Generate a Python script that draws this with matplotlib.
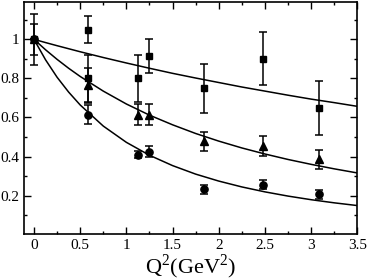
import numpy as np
import matplotlib
matplotlib.use('Agg')
import matplotlib.pyplot as plt
from matplotlib.ticker import MultipleLocator, FormatStrFormatter

plt.rcParams['font.family'] = ['Liberation Serif', 'DejaVu Serif']
plt.rcParams['mathtext.fontset'] = 'custom'
plt.rcParams['mathtext.rm'] = 'Liberation Serif'

# data points (Q^2, value, error)
q_sq = [0.0, 0.59, 0.59, 1.125, 1.24, 1.835, 2.48, 3.09]
v_sq = [1.0, 1.05, 0.80, 0.80, 0.915, 0.75, 0.90, 0.648]
e_sq = [0.13, 0.07, 0.12, 0.12, 0.085, 0.125, 0.136, 0.14]

q_tri = [0.0, 0.59, 1.125, 1.24, 1.835, 2.48, 3.09]
v_tri = [1.0, 0.765, 0.615, 0.615, 0.478, 0.455, 0.385]
e_tri = [0.08, 0.09, 0.055, 0.056, 0.05, 0.052, 0.048]

q_circ = [0.0, 0.59, 1.125, 1.24, 1.835, 2.48, 3.09]
v_circ = [1.0, 0.615, 0.41, 0.425, 0.232, 0.256, 0.207]
e_circ = [0.0, 0.05, 0.02, 0.028, 0.024, 0.024, 0.024]

# fitted curves
q_fit = [0.0, 0.125, 0.25, 0.375, 0.5, 0.75, 1.0, 1.25, 1.5, 1.75,
         2.0, 2.25, 2.5, 2.75, 3.0, 3.25, 3.5]
fit_top = [1.0, 0.9835, 0.9675, 0.952, 0.9365, 0.907, 0.879, 0.852, 0.826,
           0.802, 0.779, 0.756, 0.735, 0.714, 0.694, 0.676, 0.657]
fit_mid = [1.0, 0.9467, 0.8975, 0.852, 0.81, 0.735, 0.669, 0.612, 0.5625,
           0.518, 0.479, 0.444, 0.413, 0.385, 0.36, 0.337, 0.316]
fit_low = [1.0, 0.8954, 0.806, 0.730, 0.664, 0.556, 0.4727, 0.4066, 0.3536,
           0.310, 0.2744, 0.2444, 0.2191, 0.1975, 0.179, 0.163, 0.149]

fig = plt.figure(figsize=(3.68, 2.8), dpi=100)
ax = fig.add_axes([0.066, 0.164, 0.905, 0.828])

for y in (fit_top, fit_mid, fit_low):
    ax.plot(q_fit, y, color='black', lw=1.1)

ebkw = dict(color='black', ecolor='black', elinewidth=1.1, capsize=2.6,
            capthick=1.1, linestyle='none')
ax.errorbar(q_sq, v_sq, yerr=e_sq, marker='s', markersize=4.8, **ebkw)
ax.errorbar(q_tri, v_tri, yerr=e_tri, marker='^', markersize=5.6, **ebkw)
ax.errorbar(q_circ, v_circ, yerr=e_circ, marker='o', markersize=5.2, **ebkw)

ax.set_xlim(-0.105, 3.5)
ax.set_ylim(0.003, 1.19)
ax.xaxis.set_major_locator(MultipleLocator(0.5))
ax.xaxis.set_minor_locator(MultipleLocator(0.25))
ax.yaxis.set_major_locator(MultipleLocator(0.2))
ax.yaxis.set_minor_locator(MultipleLocator(0.1))
ax.xaxis.set_major_formatter(FormatStrFormatter('%g'))
ax.yaxis.set_major_formatter(FormatStrFormatter('%g'))
ax.tick_params(which='both', direction='in', top=True, right=True,
               labelsize=11, width=1)
ax.tick_params(which='major', length=5)
ax.tick_params(which='minor', length=2.5)
for s in ax.spines.values():
    s.set_linewidth(1.2)

ax.set_xlabel(r'Q$^2$(GeV$^2$)', fontsize=16, labelpad=0)

fig.savefig('out.png', dpi=100)
